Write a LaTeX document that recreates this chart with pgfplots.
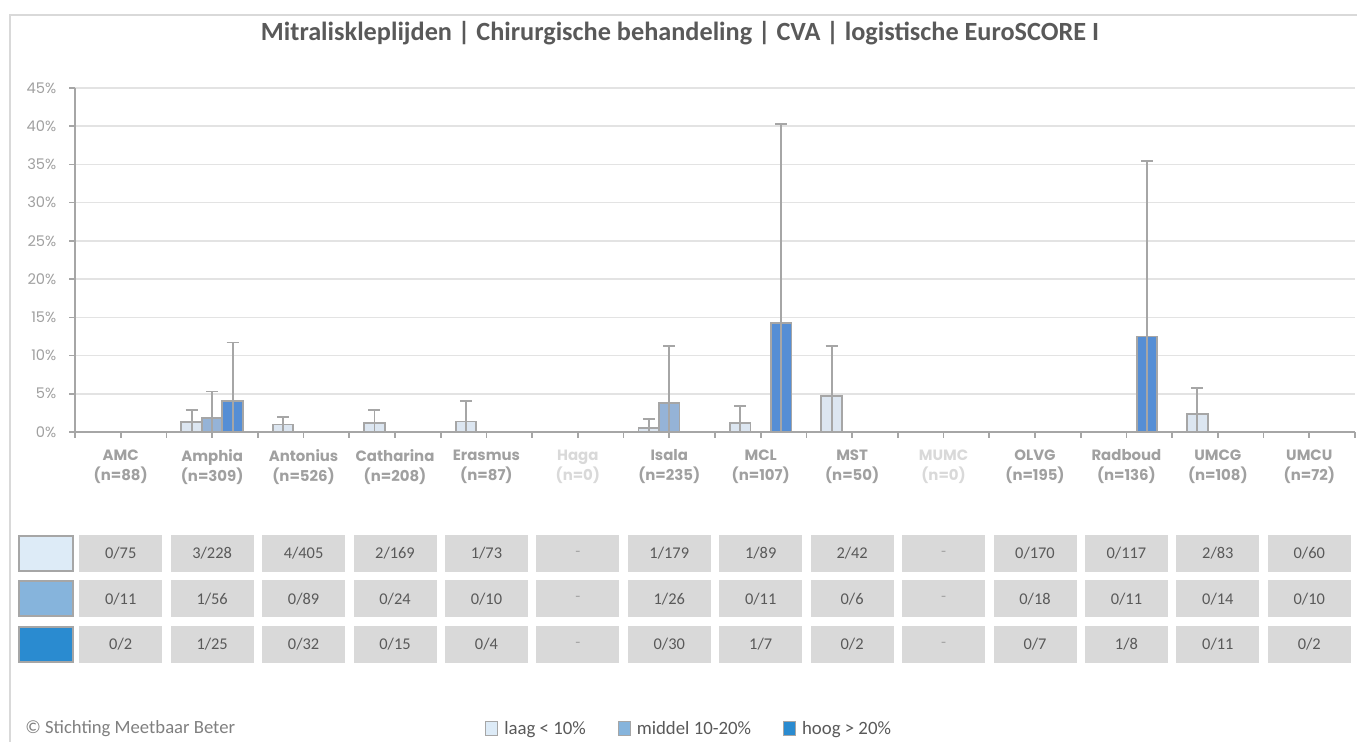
\documentclass[border=0pt]{standalone}
\usepackage{fontspec}
\setmainfont{Carlito}
\newfontfamily\pop{Poppins}
\usepackage{pgfplots}
\usepackage{pgfplotstable}
\pgfplotsset{compat=1.18}

\definecolor{titlegray}{HTML}{595959}
\definecolor{axisgray}{HTML}{A6A6A6}
\definecolor{gridgray}{HTML}{E3E3E3}
\definecolor{lblgray}{HTML}{A0A0A0}
\definecolor{lightlbl}{HTML}{D9D9D9}
\definecolor{framegray}{HTML}{D9D9D9}
\definecolor{cellgray}{HTML}{D9D9D9}
\definecolor{celltext}{HTML}{595959}
\definecolor{footgray}{HTML}{7F7F7F}
\definecolor{barlaag}{HTML}{DCE6F1}
\definecolor{barmiddel}{HTML}{95B3D7}
\definecolor{barhoog}{HTML}{558ED5}
\definecolor{swlaag}{HTML}{DDEBF7}
\definecolor{swmiddel}{HTML}{86B4DC}
\definecolor{swhoog}{HTML}{2A8BD0}

% x = category index, y = percentage, hi = upper bound of interval
\pgfplotstableread{
x y hi
1 1.316 2.9
2 0.988 2.0
3 1.183 2.9
4 1.370 4.05
6 0.559 1.7
7 1.124 3.36
8 4.762 11.3
12 2.410 5.7
}\laag
\pgfplotstableread{
x y hi
1 1.786 5.3
6 3.846 11.3
}\middel
\pgfplotstableread{
x y hi
1 4.000 11.7
7 14.286 40.3
11 12.500 35.4
}\hoog

\begin{document}
\begin{tikzpicture}[x=0.75pt,y=0.75pt]
\path[use as bounding box] (0,0) rectangle (1357,742);
\draw[framegray, line width=1.9pt] (10,0) -- (10,727) -- (1357,727);
\node[anchor=base, font=\bfseries\fontsize{19.7}{22}\selectfont, text=titlegray, inner sep=0pt] at (680,701)
  {Mitraliskleplijden | Chirurgische behandeling | CVA | logistische EuroSCORE I};

\begin{axis}[
  at={(56.25pt,232.5pt)}, anchor=south west,
  width=960pt, height=258pt, scale only axis,
  xmin=-0.5, xmax=13.5, ymin=0, ymax=45,
  axis lines*=left,
  axis line style={draw=axisgray, line width=1.2pt},
  ytick={0,5,...,45},
  yticklabels={0\%,5\%,10\%,15\%,20\%,25\%,30\%,35\%,40\%,45\%},
  ymajorgrids, grid style={draw=gridgray, line width=1.2pt},
  tick align=outside,
  major tick length=4.5pt,
  ytick style={draw=axisgray, line width=1.2pt},
  xtick={-0.5,0.5,...,13.5}, xticklabels={},
  xtick style={draw=axisgray, line width=1.2pt},
  extra x ticks={0,1,...,13},
  extra x tick labels={{AMC\\(n=88)},{Amphia\\(n=309)},{Antonius\\(n=526)},{Catharina\\(n=208)},{Erasmus\\(n=87)},{\color{lightlbl}Haga\\\color{lightlbl}(n=0)},{Isala\\(n=235)},{MCL\\(n=107)},{MST\\(n=50)},{\color{lightlbl}MUMC\\\color{lightlbl}(n=0)},{OLVG\\(n=195)},{Radboud\\(n=136)},{UMCG\\(n=108)},{UMCU\\(n=72)}},
  extra x tick style={tick style={draw=none}},
  yticklabel style={font=\pop\fontsize{11}{13}\selectfont, text=lblgray, xshift=-6pt},
  xticklabel style={font=\pop\bfseries\fontsize{11.2}{15}\selectfont, text=lblgray, align=center, yshift=-5.25pt},
  ybar, bar width=15.4pt,
  clip=false,
  legend columns=3,
  legend style={at={(0.3203,-0.8634)}, anchor=west, draw=none, fill=none, inner sep=0pt,
    font=\fontsize{14.1}{16}\selectfont, text=titlegray,
    /tikz/every odd column/.append style={column sep=2.5pt},
    /tikz/every even column/.append style={column sep=22pt}},
  legend cell align=left,
]
\addplot[bar shift=-15.4pt, fill=barlaag, draw=axisgray, line width=1.4pt, forget plot,
  error bars/.cd, y dir=both, y explicit,
  error bar style={draw=axisgray, line width=1.4pt},
  error mark options={rotate=90, draw=axisgray, line width=1.4pt, mark size=4.5pt}]
  table[x=x, y=y, y error plus expr=\thisrow{hi}-\thisrow{y}, y error minus expr=\thisrow{y}] {\laag};
\addplot[bar shift=0pt, fill=barmiddel, draw=axisgray, line width=1.4pt, forget plot,
  error bars/.cd, y dir=both, y explicit,
  error bar style={draw=axisgray, line width=1.4pt},
  error mark options={rotate=90, draw=axisgray, line width=1.4pt, mark size=4.5pt}]
  table[x=x, y=y, y error plus expr=\thisrow{hi}-\thisrow{y}, y error minus expr=\thisrow{y}] {\middel};
\addplot[bar shift=15.4pt, fill=barhoog, draw=axisgray, line width=1.4pt, forget plot,
  error bars/.cd, y dir=both, y explicit,
  error bar style={draw=axisgray, line width=1.4pt},
  error mark options={rotate=90, draw=axisgray, line width=1.4pt, mark size=4.5pt}]
  table[x=x, y=y, y error plus expr=\thisrow{hi}-\thisrow{y}, y error minus expr=\thisrow{y}] {\hoog};

\addlegendimage{legend image code/.code={\draw[draw=axisgray,line width=0.75pt,fill=swlaag] (0pt,-4.8pt) rectangle (9pt,5.8pt);}}
\addlegendentry{laag < 10\%}
\addlegendimage{legend image code/.code={\draw[draw=axisgray,line width=0.75pt,fill=swmiddel] (0pt,-4.8pt) rectangle (9pt,5.8pt);}}
\addlegendentry{middel 10-20\%}
\addlegendimage{legend image code/.code={\draw[draw=axisgray,line width=0.75pt,fill=swhoog] (0pt,-4.8pt) rectangle (9pt,5.8pt);}}
\addlegendentry{hoog > 20\%}

\pgfplotsinvokeforeach{0,...,13}{\coordinate (c#1) at (axis cs:#1,0);}
\end{axis}

\tikzset{cell/.style={fill=cellgray, text=celltext, minimum width=62.25pt, minimum height=27.75pt, inner sep=0pt, font=\fontsize{12.3}{14}\selectfont},
  sw/.style={draw=axisgray, line width=1.5pt, minimum width=40.5pt, minimum height=26.25pt, inner sep=0pt}}
\node[sw, fill=swlaag] at (46,188.5) {};
\node[sw, fill=swmiddel] at (46,143) {};
\node[sw, fill=swhoog] at (46,97.5) {};
\foreach \t [count=\i from 0] in {0/75,3/228,4/405,2/169,1/73,\textcolor{axisgray}{-},1/179,1/89,2/42,\textcolor{axisgray}{-},0/170,0/117,2/83,0/60}
  {\node[cell] at ([yshift=-91.1pt]c\i) {\t};}
\foreach \t [count=\i from 0] in {0/11,1/56,0/89,0/24,0/10,\textcolor{axisgray}{-},1/26,0/11,0/6,\textcolor{axisgray}{-},0/18,0/11,0/14,0/10}
  {\node[cell] at ([yshift=-125.25pt]c\i) {\t};}
\foreach \t [count=\i from 0] in {0/2,1/25,0/32,0/15,0/4,\textcolor{axisgray}{-},0/30,1/7,0/2,\textcolor{axisgray}{-},0/7,1/8,0/11,0/2}
  {\node[cell] at ([yshift=-159.4pt]c\i) {\t};}

\node[anchor=west, font=\fontsize{14}{16}\selectfont, text=footgray, inner sep=0pt] at (25,13) {© Stichting Meetbaar Beter};
\end{tikzpicture}
\end{document}
